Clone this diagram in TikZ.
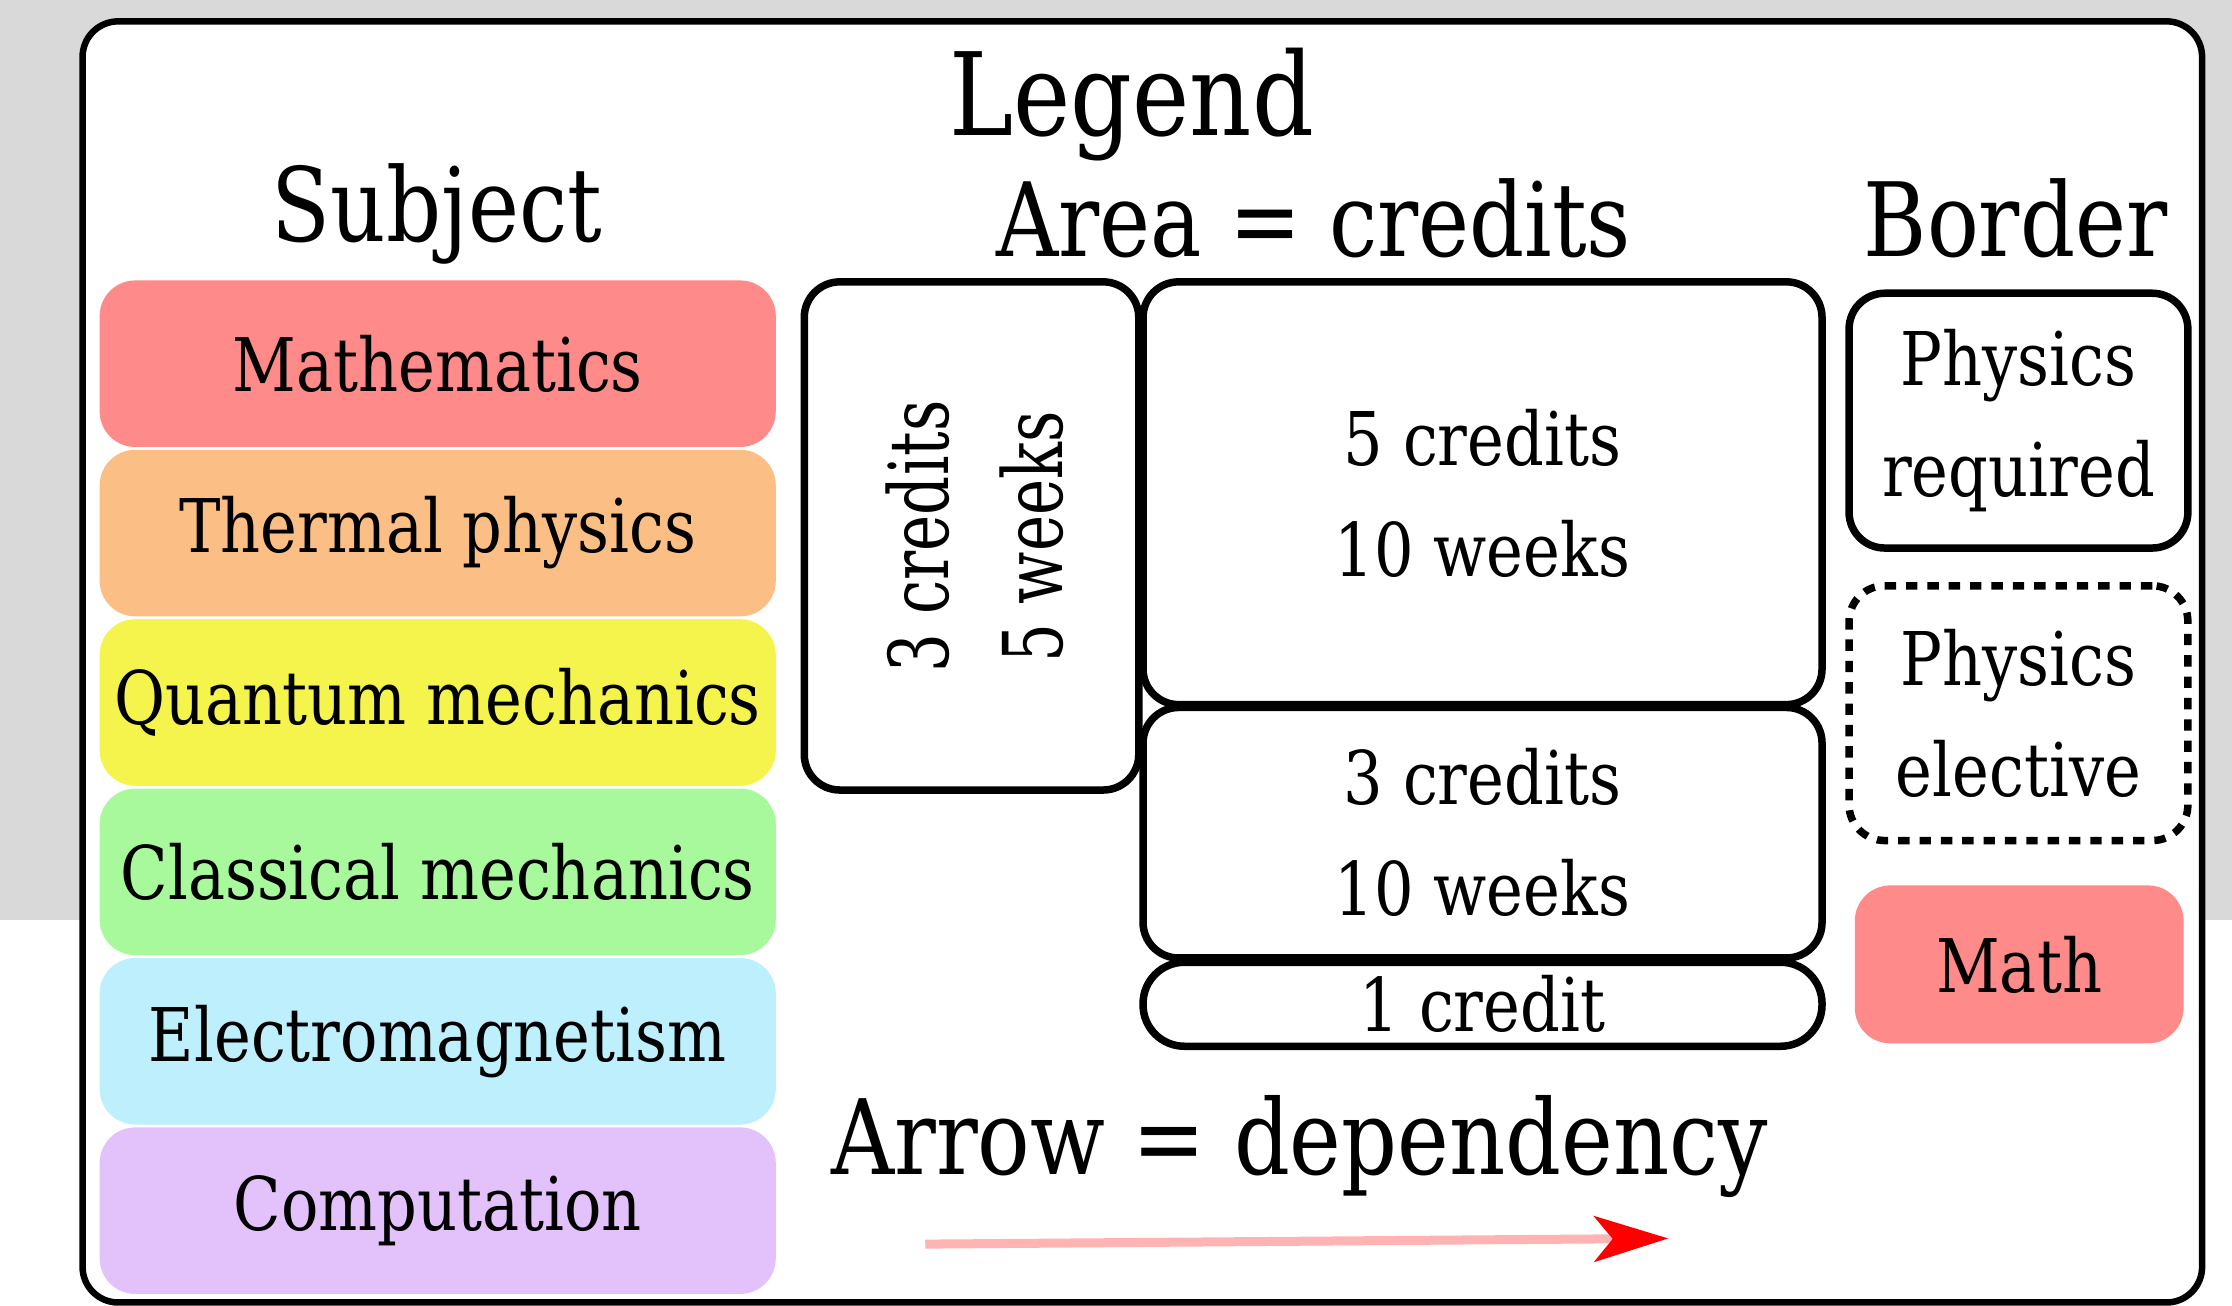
\documentclass[tikz,border=0pt]{standalone}
\usepackage{fontspec}
\setmainfont{DejaVu Serif}[FakeStretch=0.84]
\newfontfamily\rotfont{DejaVu Serif}[FakeStretch=0.74]
\usepackage{pgf,tikz}
\usepackage{color}
\usetikzlibrary{arrows.meta}
\definecolor{bggray}{HTML}{D9D9D9}
\definecolor{mathred}{HTML}{FF8A8A}
\definecolor{thermorange}{HTML}{FBBF85}
\definecolor{quantyellow}{HTML}{F4F44C}
\definecolor{classgreen}{HTML}{A8F99B}
\definecolor{emblue}{HTML}{BEEFFC}
\definecolor{compviolet}{HTML}{E3C1FA}
\definecolor{arrowpink}{HTML}{FFB3B3}

\begin{document}
\begin{tikzpicture}[x=0.1mm,y=-0.1mm,
	every node/.style={inner sep=0pt,align=center,font=\fontsize{14.8}{22.2}\selectfont},
	title/.style={anchor=base,font=\fontsize{20.5}{24}\selectfont},
	subj/.style={rounded corners=2.5mm,minimum width=47.5mm,minimum height=11.7mm},
	area/.style={draw,line width=1.5pt,rounded corners=2.5mm,minimum width=47.7mm},
	brd/.style={draw,line width=1.5pt,rounded corners=2.5mm,minimum width=23.8mm,minimum height=17.9mm}]
	\useasboundingbox (0,0) rectangle (1568,917);
	\fill[bggray] (0,0) rectangle (1568,646);
	\draw[line width=1.3pt,fill=white,rounded corners=2.5mm] (58,15) rectangle (1547,915);
	
	\node[title,font=\fontsize{23}{26}\selectfont] (legend) at (795,95) {Legend};
	\node[title] (subject) at (307,170) {Subject};
	\node[title] (areatitle) at (923,180) {Area = credits};
	\node[title] (border) at (1416,180) {Border};
	\node[title,font=\fontsize{20.8}{24}\selectfont] (arrowtitle) at (913,825) {Arrow = dependency};
	
	\node[subj,fill=mathred] (math) at (307.5,255.5) {Mathematics};
	\node[subj,fill=thermorange] (thermal) at (307.5,374.5) {Thermal physics};
	\node[subj,fill=quantyellow] (quantum) at (307.5,493.5) {Quantum mechanics};
	\node[subj,fill=classgreen] (classical) at (307.5,612.5) {Classical mechanics};
	\node[subj,fill=emblue] (em) at (307.5,731.5) {Electromagnetism};
	\node[subj,fill=compviolet] (comp) at (307.5,850.5) {Computation};
	
	\node[area,minimum width=23.5mm,minimum height=35.7mm] (short) at (682.5,376.5) {};
	\node[rotate=90,font=\rotfont\fontsize{16.5}{22.8}\selectfont] (shorttext) at (685,377) {3 credits\\5 weeks};
	\node[area,minimum height=29.7mm] (five) at (1041.5,346.5) {5 credits\\10 weeks};
	\node[area,minimum height=17.6mm] (three) at (1041.5,585) {3 credits\\10 weeks};
	\node[area,minimum height=5.9mm,rounded corners=2.9mm] (one) at (1041.5,705.5) {1 credit};
	
	\node[brd] (req) at (1418,295.5) {Physics\\required};
	\node[brd,dash pattern=on 0.8mm off 0.7mm] (elec) at (1418,501) {Physics\\elective};
	\node[brd,draw=none,fill=mathred,minimum width=23.1mm,minimum height=11.1mm] (mathkey) at (1418.5,677.5) {Math};
	
	\coordinate (arrstart) at (650,874);
	\coordinate (arrend) at (1172,870);
	\draw[arrowpink,line width=1.8pt,-{Stealth[red,length=5.2mm,width=3.2mm,inset=1.3mm]}] (arrstart) -- (arrend);
	
\end{tikzpicture}
\end{document}
